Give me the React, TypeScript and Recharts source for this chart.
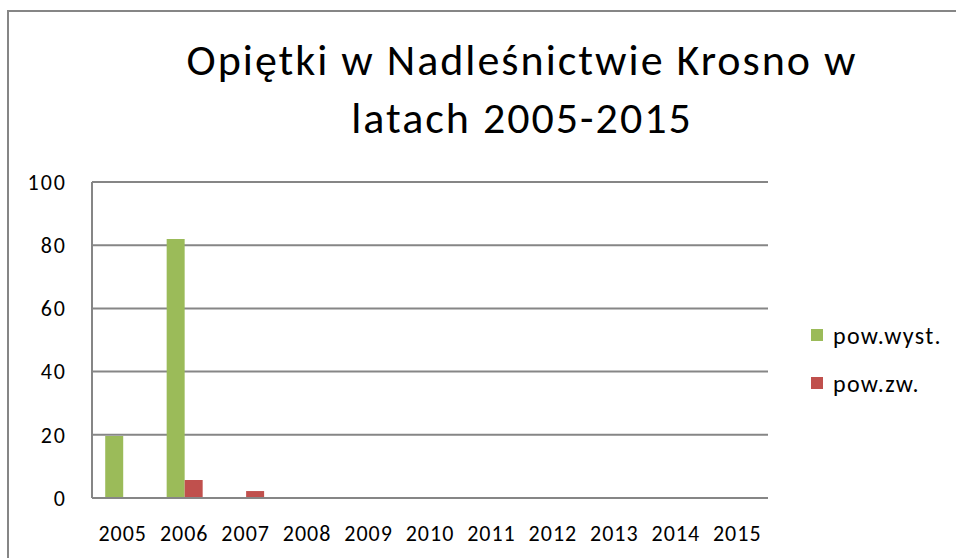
import React from "react";
import { BarChart, Bar, XAxis, YAxis, CartesianGrid, Legend } from "recharts";

const years = ["2005", "2006", "2007", "2008", "2009", "2010", "2011", "2012", "2013", "2014", "2015"];
const powWyst = [19.6, 82, 0, 0, 0, 0, 0, 0, 0, 0, 0];
const powZw = [0, 5.7, 2.2, 0, 0, 0, 0, 0, 0, 0, 0];
const yTicks = [0, 20, 40, 60, 80, 100];

const FONT = "Carlito, Lato, 'Noto Sans', sans-serif";
const GREEN = "#9BBB59";
const RED = "#C0504D";
const GRID = "#868686";

const data = years.map((year, i) => ({ year, wyst: powWyst[i], zw: powZw[i] }));

const legendItems = [
  { label: "pow.wyst.", color: GREEN },
  { label: "pow.zw.", color: RED },
];

function LegendBox() {
  return (
    <div style={{ fontFamily: FONT, fontSize: 24, letterSpacing: 1.3, color: "#000" }}>
      {legendItems.map((it) => (
        <div key={it.label} style={{ display: "flex", alignItems: "center", height: 48 }}>
          <span style={{ width: 12, height: 12, background: it.color, display: "inline-block", marginRight: 10 }} />
          <span>{it.label}</span>
        </div>
      ))}
    </div>
  );
}

export default function App() {
  return (
    <>
      {/* page fills the window exactly, no scrollbars */}
      <style>{`html,body{margin:0;padding:0;overflow:hidden;background:#fff}`}</style>
      <div style={{ position: "relative", width: 956, height: 558, overflow: "hidden", background: "#fff" }}>
        {/* outer frame: only top and left edges are visible in the crop */}
        <div style={{ position: "absolute", left: 7, top: 10, width: 949, height: 2, background: GRID }} />
        <div style={{ position: "absolute", left: 7, top: 10, width: 2, height: 548, background: GRID }} />
        <div
          style={{
            position: "absolute",
            left: 102,
            top: 31,
            width: 840,
            textAlign: "center",
            fontFamily: FONT,
            fontSize: 44,
            letterSpacing: 2,
            lineHeight: "58px",
            color: "#000",
          }}
        >
          Opiętki w Nadleśnictwie Krosno w
          <br />
          latach 2005-2015
        </div>
        <div style={{ position: "absolute", left: 8, top: 8 }}>
          <BarChart
            width={948}
            height={550}
            data={data}
            margin={{ top: 174, right: 188, left: 0, bottom: 0 }}
            barCategoryGap="21.5%"
            barGap={0}
          >
            <CartesianGrid vertical={false} stroke={GRID} strokeWidth={2} />
            <XAxis
              dataKey="year"
              height={60}
              tickLine={false}
              tickSize={0}
              tickMargin={27}
              axisLine={{ stroke: GRID, strokeWidth: 2 }}
              tick={{ fill: "#000", fontSize: 22, fontFamily: FONT, letterSpacing: 1 }}
              interval={0}
            />
            <YAxis
              width={84}
              domain={[0, 100]}
              ticks={yTicks}
              tickLine={false}
              tickSize={0}
              tickMargin={25}
              axisLine={{ stroke: GRID, strokeWidth: 2 }}
              tick={{ fill: "#000", fontSize: 22, fontFamily: FONT, letterSpacing: 2 }}
            />
            <Legend
              layout="vertical"
              align="center"
              verticalAlign="middle"
              content={() => <LegendBox />}
              wrapperStyle={{ left: 803, top: 303, width: 140 }}
            />
            <Bar dataKey="wyst" name="pow.wyst." fill={GREEN} isAnimationActive={false} />
            <Bar dataKey="zw" name="pow.zw." fill={RED} isAnimationActive={false} />
          </BarChart>
        </div>
      </div>
    </>
  );
}
